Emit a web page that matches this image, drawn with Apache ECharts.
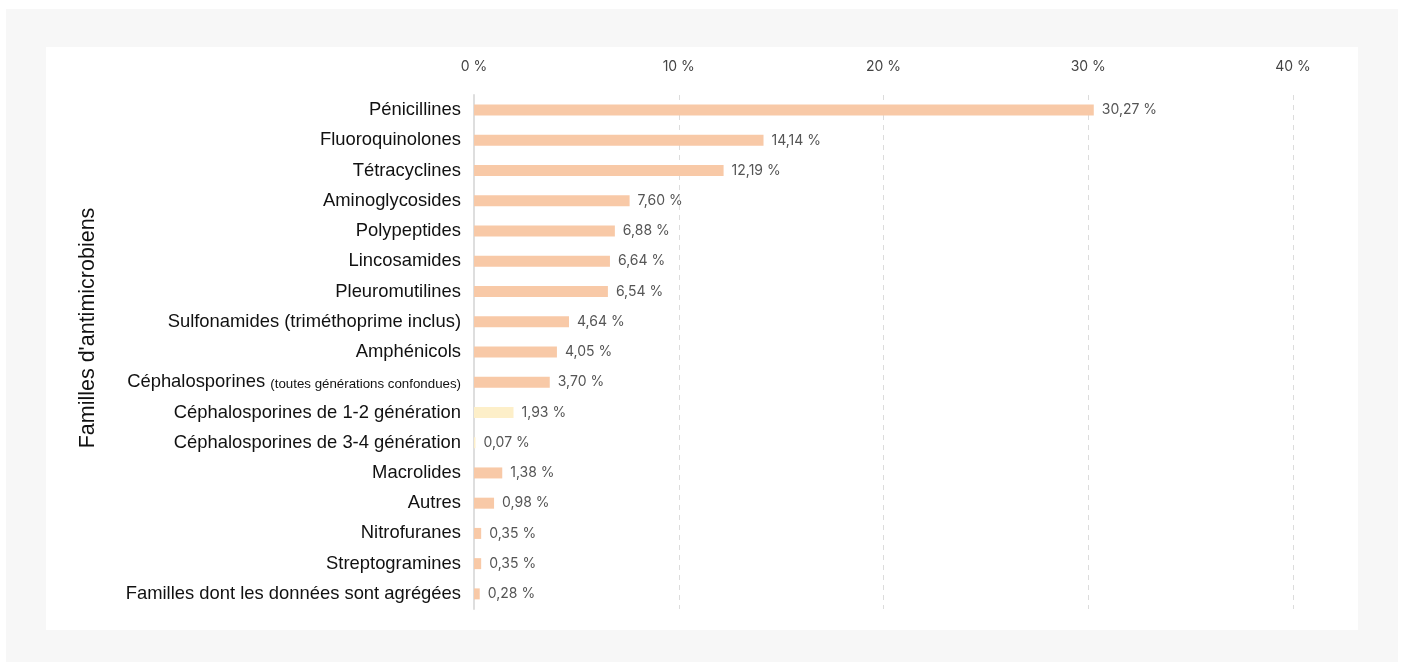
<!DOCTYPE html>
<html>
<head>
<meta charset="utf-8">
<script src="https://cdn.jsdelivr.net/npm/echarts@6/dist/echarts.min.js"></script>
<style>
  html, body { margin: 0; padding: 0; background: #fff; }
  #outer { position: absolute; left: 6px; top: 9px; width: 1392px; height: 653px; background: #f7f7f7; }
  #panel { position: absolute; left: 46px; top: 47px; width: 1312px; height: 583px; background: #fff; }
  #chart { position: absolute; left: 0; top: 0; width: 1402px; height: 662px; }
</style>
</head>
<body>
<div id="outer"></div>
<div id="panel"></div>
<div id="chart"></div>
<script>
// Familles d'antimicrobiens — part des ventes (%)
const categories = [
  'Pénicillines', 'Fluoroquinolones', 'Tétracyclines', 'Aminoglycosides',
  'Polypeptides', 'Lincosamides', 'Pleuromutilines', 'Sulfonamides (triméthoprime inclus)',
  'Amphénicols', 'Céphalosporines|(toutes générations confondues)',
  'Céphalosporines de 1-2 génération', 'Céphalosporines de 3-4 génération',
  'Macrolides', 'Autres', 'Nitrofuranes', 'Streptogramines',
  'Familles dont les données sont agrégées'
];
const values = [30.27, 14.14, 12.19, 7.60, 6.88, 6.64, 6.54, 4.64, 4.05, 3.70, 1.93, 0.07, 1.38, 0.98, 0.35, 0.35, 0.28];
// sous-catégories de céphalosporines en jaune pâle
const subCategories = ['Céphalosporines de 1-2 génération', 'Céphalosporines de 3-4 génération'];
const xTicks = [0, 10, 20, 30, 40];

const PEACH = '#f8c9a7', PALE = '#fdefc9';
const frNum = (v) => v.toFixed(2).replace('.', ',') + ' %';

const chart = echarts.init(document.getElementById('chart'), null, { renderer: 'canvas' });
chart.setOption({
  animation: false,
  backgroundColor: 'transparent',
  grid: { left: 474, right: 109, top: 95, bottom: 53, containLabel: false },
  xAxis: {
    type: 'value', position: 'top', min: xTicks[0], max: xTicks[xTicks.length - 1], interval: 10,
    axisLine: { show: false }, axisTick: { show: false },
    axisLabel: { margin: 21, fontSize: 14, color: '#444', fontFamily: 'Inter', formatter: (v) => v + ' %' },
    splitLine: { show: true, lineStyle: { type: [5, 5], color: '#dcdcdc', width: 1 } }
  },
  yAxis: {
    type: 'category', inverse: true, data: categories,
    axisLine: { show: true, lineStyle: { color: '#dedede', width: 2 } },
    axisTick: { show: false },
    axisLabel: {
      margin: 13, fontSize: 18.4, color: '#111', fontFamily: 'Liberation Sans',
      formatter: (v) => {
        const p = v.split('|');
        return p.length > 1 ? p[0] + ' {s|' + p[1] + '}' : v;
      },
      rich: { s: { fontSize: 13.3, color: '#111', fontFamily: 'Liberation Sans', padding: [4, 0, 0, 0] } }
    },
    name: "Familles d'antimicrobiens", nameLocation: 'middle', nameRotate: 90, nameGap: 375,
    nameTextStyle: { fontSize: 21.5, color: '#111', fontFamily: 'Liberation Sans', padding: [0, 0, 0, 48] }
  },
  series: [{
    type: 'bar', barWidth: 11,
    data: values.map((v, i) => ({
      value: v,
      itemStyle: { color: subCategories.includes(categories[i]) ? PALE : PEACH }
    })),
    label: {
      show: true, position: 'right', distance: 8, fontSize: 14, color: '#555', fontFamily: 'Inter',
      formatter: (p) => frNum(p.value)
    }
  }]
});
</script>
</body>
</html>
